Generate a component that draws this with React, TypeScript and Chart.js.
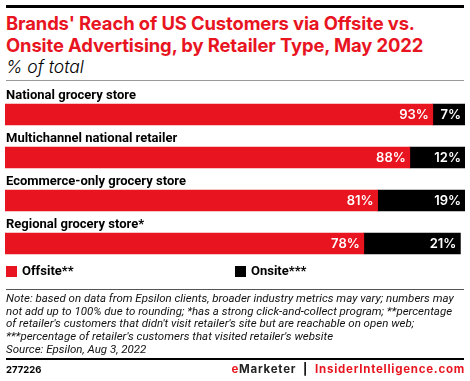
import React, { useEffect, useRef } from "react";
import { Chart, registerables } from "chart.js";

Chart.register(...registerables);

const categories = [
  "National grocery store",
  "Multichannel national retailer",
  "Ecommerce-only grocery store",
  "Regional grocery store*",
];
const offsite = [93, 88, 81, 78];
const onsite = [7, 12, 19, 21];
const seriesNames = ["Offsite**", "Onsite***"];

const RED = "#e8141f";
const BLACK = "#000000";
const FONT = "Inter, 'Noto Sans', Roboto, sans-serif";
const FONT2 = "Roboto, 'Noto Sans', sans-serif";

const labelsPlugin = {
  id: "customLabels",
  afterDatasetsDraw(chart: any) {
    const ctx = chart.ctx;
    ctx.save();
    const meta0 = chart.getDatasetMeta(0);
    ctx.font = `700 13px ${FONT2}`;
    ctx.fillStyle = "#000";
    ctx.textAlign = "left";
    ctx.textBaseline = "alphabetic";
    meta0.data.forEach((bar: any, i: number) => {
      const top = bar.y - bar.height / 2;
      ctx.fillText(categories[i], chart.chartArea.left + 1, top - 5);
    });
    ctx.font = `600 13px ${FONT}`;
    ctx.fillStyle = "#fff";
    ctx.textAlign = "right";
    ctx.textBaseline = "middle";
    chart.data.datasets.forEach((ds: any, di: number) => {
      const meta = chart.getDatasetMeta(di);
      meta.data.forEach((bar: any, i: number) => {
        ctx.fillText(ds.data[i] + "%", bar.x - 4, bar.y + 1);
      });
    });
    ctx.restore();
  },
};

export default function App() {
  const ref = useRef<HTMLCanvasElement>(null);
  useEffect(() => {
    document.body.style.margin = "0";
    const chart = new Chart(ref.current!, {
      type: "bar",
      data: {
        labels: categories,
        datasets: [
          { label: seriesNames[0], data: offsite, backgroundColor: RED, barThickness: 21, borderWidth: 0 },
          { label: seriesNames[1], data: onsite, backgroundColor: BLACK, barThickness: 21, borderWidth: 0 },
        ],
      },
      options: {
        indexAxis: "y",
        responsive: false,
        animation: false,
        maintainAspectRatio: false,
        layout: { padding: { top: 13, left: 5, right: 5, bottom: 0 } },
        plugins: { legend: { display: false }, tooltip: { enabled: false } },
        scales: {
          x: { stacked: true, min: 0, max: 100, display: false },
          y: { stacked: true, display: false },
        },
      },
      plugins: [labelsPlugin],
    });
    return () => chart.destroy();
  }, []);

  const abs = (s: React.CSSProperties): React.CSSProperties => ({ position: "absolute", ...s });

  return (
    <div style={{ position: "absolute", left: 0, top: 0, width: 470, height: 381, background: "#fff", fontFamily: FONT, overflow: "hidden" }}>
      <div style={abs({ left: 6, top: 5, width: 458, height: 3, background: "#000" })} />
      <div style={abs({ left: 6, top: 12, color: RED, fontWeight: 700, fontSize: 18.4, lineHeight: "22px", whiteSpace: "nowrap", letterSpacing: -0.1 })}>
        Brands' Reach of US Customers via Offsite vs.<br />Onsite Advertising, by Retailer Type, May 2022
      </div>
      <div style={abs({ left: 6, top: 56, color: "#000", fontStyle: "italic", fontWeight: 300, fontSize: 17.5, lineHeight: "22px", whiteSpace: "nowrap" })}>
        % of total
      </div>
      <div style={abs({ left: 6, top: 80, width: 458, height: 1, background: "#999" })} />
      <canvas ref={ref} width={470} height={185} style={abs({ left: 0, top: 80, width: 470, height: 185 })} />
      <div style={abs({ left: 6, top: 266, width: 11, height: 11, background: RED })} />
      <div style={abs({ left: 22, top: 263, fontFamily: FONT2, fontWeight: 700, fontSize: 13, lineHeight: "16px", whiteSpace: "nowrap" })}>{seriesNames[0]}</div>
      <div style={abs({ left: 235, top: 266, width: 11, height: 11, background: BLACK })} />
      <div style={abs({ left: 251, top: 263, fontFamily: FONT2, fontWeight: 700, fontSize: 13, lineHeight: "16px", whiteSpace: "nowrap" })}>{seriesNames[1]}</div>
      <div style={abs({ left: 6, top: 289, width: 458, height: 1, background: "#555" })} />
      <div style={abs({ left: 6, top: 292, fontFamily: FONT2, fontStyle: "italic", fontWeight: 400, fontSize: 11.5, lineHeight: "12.7px", whiteSpace: "nowrap", color: "#111" })}>
        Note: based on data from Epsilon clients, broader industry metrics may vary; numbers may<br />
        not add up to 100% due to rounding; *has a strong click-and-collect program; **percentage<br />
        of retailer's customers that didn't visit retailer's site but are reachable on open web;<br />
        ***percentage of retailer's customers that visited retailer's website<br />
        Source: Epsilon, Aug 3, 2022
      </div>
      <div style={abs({ left: 6, top: 358, width: 458, height: 2, background: "#000" })} />
      <div style={abs({ left: 6, top: 364, fontWeight: 700, fontSize: 9.5, lineHeight: "12px" })}>277226</div>
      <div style={abs({ right: 5, top: 363, fontWeight: 700, fontSize: 11.5, lineHeight: "13px", whiteSpace: "nowrap", letterSpacing: 0.75 })}>
        <span style={{ color: RED }}>e</span>
        <span style={{ color: "#222" }}>Marketer</span>
        <span style={{ color: "#000" }}>&nbsp; | &nbsp;</span>
        <span style={{ color: RED }}>InsiderIntelligence.com</span>
      </div>
    </div>
  );
}
